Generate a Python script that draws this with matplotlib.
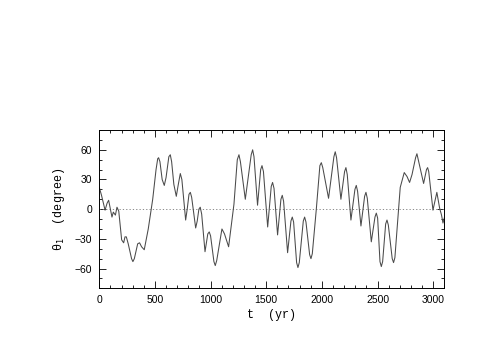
import matplotlib
matplotlib.use("Agg")
import matplotlib.pyplot as plt
from matplotlib.ticker import MultipleLocator

# points (turning points plus shoulders)
T = [0, 20, 52, 70, 84, 96, 114, 126, 145, 159, 175, 201, 219, 231, 243, 260,
     290, 302, 315, 345, 362, 380, 404, 440, 480, 510, 525, 533, 545, 565,
     584, 600, 625, 638, 650, 670, 692, 710, 728, 742, 776, 790, 806, 818,
     830, 866, 880, 895, 907, 920, 950, 975, 988, 1000, 1030, 1042, 1055,
     1102, 1125, 1162, 1210, 1240, 1255, 1268, 1312, 1365, 1378, 1390,
     1422, 1450, 1462, 1475, 1513, 1545, 1557, 1570, 1602, 1632, 1644, 1656,
     1692, 1722, 1734, 1746, 1773, 1785, 1797, 1833, 1845, 1857, 1890, 1902,
     1914, 1950, 1982, 1995, 2008, 2060, 2108, 2120, 2132, 2171, 2204, 2216,
     2228, 2261, 2297, 2309, 2321, 2351, 2384, 2396, 2408, 2444, 2477, 2489,
     2501, 2522, 2534, 2546, 2573, 2585, 2597, 2632, 2644, 2656, 2704, 2740,
     2765, 2788, 2810, 2842, 2854, 2866, 2914, 2940, 2950, 2960, 2998, 3015,
     3033, 3058, 3075, 3088, 3102]
THETA = [22, 14, -1, 6, 9, 2, -8, -3, -6, 2, -2, -31, -34, -28, -28, -35,
         -50, -53, -50, -35, -34, -38, -41, -20, 10, 40, 51, 52, 48, 30,
         24, 32, 53, 55, 48, 25, 13, 25, 36, 30, -11, 0, 15, 17,
         12, -19, -12, 0, 2, -5, -43, -25, -23, -27, -53, -57, -52,
         -20, -25, -38, 5, 50, 55, 48, 10, 55, 60, 53,
         4, 40, 44, 38, -18, 23, 27, 21, -26, 10, 14, 8,
         -44, -12, -8, -13, -54, -59, -54, -12, -8, -13, -46, -50,
         -45, 0, 44, 47, 42, 11, 53, 58, 52, 10, 38, 42,
         35, -11, 20, 24, 18, -17, 13, 17, 11, -33, -8, -4,
         -9, -53, -58, -53, -15, -11, -16, -50, -54, -49, 22, 37,
         33, 27, 35, 52, 56, 50, 26, 40, 42, 38, -1, 8,
         17, 1, -6, -14, -8]

fig = plt.figure(figsize=(4.91, 3.40), dpi=100)
ax = fig.add_axes([0.2022, 0.152, 0.7027, 0.4656])

ax.axhline(0, color="#777777", lw=0.6, ls=(0, (1.5, 2.5)))
ax.plot(T, THETA, color="#4a4a4a", lw=0.75, solid_joinstyle="round")

ax.set_xlim(0, 3100)
ax.set_ylim(-80, 80)
ax.xaxis.set_major_locator(MultipleLocator(500))
ax.xaxis.set_minor_locator(MultipleLocator(100))
ax.yaxis.set_major_locator(MultipleLocator(30))
ax.yaxis.set_minor_locator(MultipleLocator(10))
ax.tick_params(which="both", direction="in", top=True, right=True,
               labelsize=7.5, width=0.6, pad=5)
ax.tick_params(which="major", length=5)
ax.tick_params(which="minor", length=2.5)
for s in ax.spines.values():
    s.set_linewidth(0.7)
for lab in ax.get_xticklabels() + ax.get_yticklabels():
    lab.set_family("Liberation Sans")

ax.set_xlabel("t  (yr)", family="Liberation Mono", fontsize=8.5, labelpad=3)
ax.set_ylabel("θ$_1$  (degree)", family="Liberation Mono", fontsize=8.5,
              labelpad=6)

fig.savefig("out.png", dpi=100)
